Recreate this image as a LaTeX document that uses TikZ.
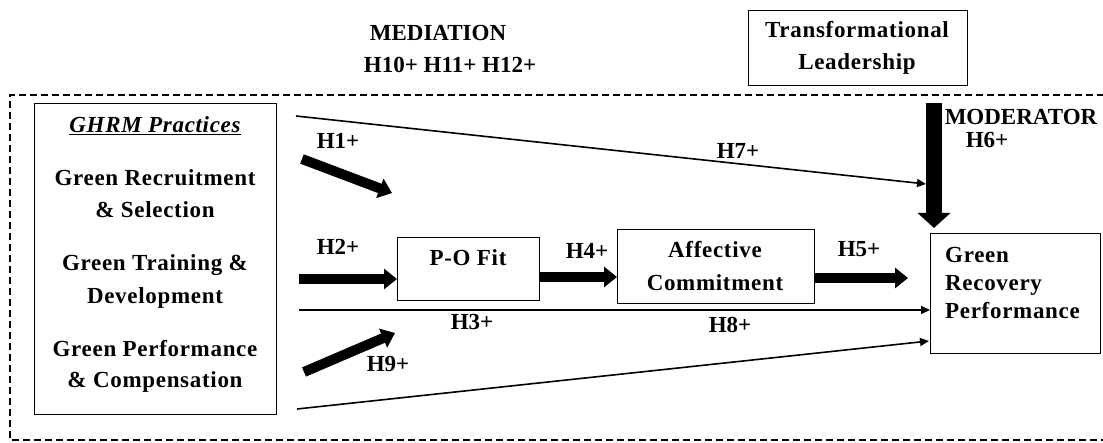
\documentclass[tikz,border=0pt]{standalone}
\usepackage{fontspec}
\setmainfont{Liberation Serif}
\newfontfamily\spacedserif[LetterSpace=3]{Liberation Serif}
\usetikzlibrary{arrows.meta}
\begin{document}
\begin{tikzpicture}[x=1pt,y=-1pt,
  lbl/.style={font=\fontsize{23}{32}\selectfont\bfseries, inner sep=0pt, anchor=base},
  slbl/.style={font=\spacedserif\fontsize{23}{32}\selectfont\bfseries, inner sep=0pt, anchor=base},
  box/.style={draw, line width=1.2pt, anchor=north west, inner sep=0pt},
  thinarrow/.style={line width=1.6pt, -{Triangle[length=9pt,width=8pt]}},
  fatarrow/.style={line width=10pt, -{Triangle[length=13pt,width=20pt]}},
  modarrow/.style={line width=16pt, -{Triangle[length=15pt,width=32pt]}},
  frame/.style={line width=1.6pt, dash pattern=on 7pt off 4pt},
]
\useasboundingbox (0,0) rectangle (1103,443);
% dashed frame (right side beyond the picture)
\draw[frame] (1115,95) -- (10,95) -- (10,440) -- (1115,440);

% boxes
\node[box, minimum width=242pt, minimum height=311pt] (ghrm) at (34,103) {};
\node[box, minimum width=142pt, minimum height=63pt] (po) at (397,237) {};
\node[box, minimum width=197pt, minimum height=74pt] (ac) at (617,229) {};
\node[box, minimum width=170pt, minimum height=120pt] (grp) at (930,233) {};
\node[box, minimum width=219pt, minimum height=75pt] (tl) at (748,10) {};

% box texts
\node[slbl] (t1) at (155,133) {\itshape\underline{GHRM Practices}};
\node[slbl] (t2) at (155,186) {Green Recruitment};
\node[slbl] (t3) at (155,218) {\& Selection};
\node[slbl] (t4) at (155,271) {Green Training \&};
\node[slbl] (t5) at (155,304) {Development};
\node[slbl] (t6) at (155,357) {Green Performance};
\node[slbl] (t7) at (155,388) {\& Compensation};
\node[slbl] (tpo) at (468,266) {P-O Fit};
\node[slbl] (tac1) at (715,258) {Affective};
\node[slbl] (tac2) at (715,291) {Commitment};
\node[slbl, anchor=base west] (tg1) at (945,263) {Green};
\node[slbl, anchor=base west] (tg2) at (945,291) {Recovery};
\node[slbl, anchor=base west] (tg3) at (945,319) {Performance};
\node[slbl] (ttl1) at (857,38) {Transformational};
\node[slbl] (ttl2) at (857,70) {Leadership};

% free labels
\node[lbl] (med) at (438,41) {MEDIATION};
\node[lbl] (medh) at (450,73) {H10+ H11+ H12+};
\node[lbl] (mod) at (1021,125) {MODERATOR};
\node[lbl] (h6) at (987,148) {H6+};
\node[lbl] (h1) at (338,149) {H1+};
\node[lbl] (h2) at (338,255) {H2+};
\node[lbl] (h3) at (472,330) {H3+};
\node[lbl] (h4) at (587,259) {H4+};
\node[lbl] (h5) at (859,257) {H5+};
\node[lbl] (h7) at (738,159) {H7+};
\node[lbl] (h8) at (730,333) {H8+};
\node[lbl] (h9) at (388,372) {H9+};

% free connector ends
\coordinate (h1s) at (302,159);
\coordinate (h1e) at (392,193);
\coordinate (h2s) at (299,279);
\coordinate (h4y) at (560,277);
\coordinate (h5e) at (908,278);
\coordinate (h3s) at (299,310);
\coordinate (h7s) at (296,116);
\coordinate (h7e) at (926,184);
\coordinate (h9s) at (304,372);
\coordinate (h9e) at (395,333);
\coordinate (bs) at (297,409);
\coordinate (be) at (929,341);
\coordinate (ms) at (934,103);
\coordinate (me) at (934,228);

% connectors
\draw[thinarrow] (h7s) -- (h7e);
\draw[fatarrow] (h1s) -- (h1e);
\draw[fatarrow] (h2s) -- (h2s -| po.west);
\draw[fatarrow] (h4y -| po.east) -- (h4y -| ac.west);
\draw[fatarrow] (h5e -| ac.east) -- (h5e);
\draw[thinarrow] (h3s) -- (h3s -| grp.west);
\draw[fatarrow] (h9s) -- (h9e);
\draw[thinarrow] (bs) -- (be);
\draw[modarrow] (ms) -- (me);
\end{tikzpicture}
\end{document}
